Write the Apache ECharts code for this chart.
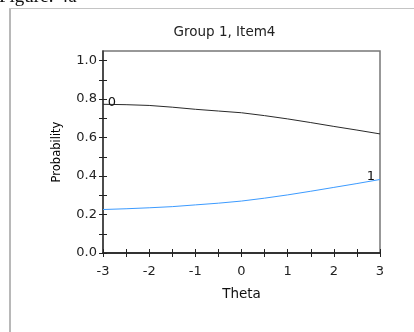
<!DOCTYPE html>
<html>
<head>
<meta charset="utf-8">
<script src="https://cdn.jsdelivr.net/npm/echarts@6/dist/echarts.min.js"></script>
<style>
html,body{margin:0;padding:0;background:#fff;}
#c{width:414px;height:332px;}
</style>
</head>
<body>
<div id="c"></div>
<script>
var theta = [-3, -2.5, -2, -1.5, -1, -0.5, 0, 0.5, 1, 1.5, 2, 2.5, 3];
var cat0 = [0.773, 0.771, 0.767, 0.758, 0.747, 0.738, 0.729, 0.714, 0.697, 0.678, 0.658, 0.639, 0.619];
var cat1 = [0.226, 0.230, 0.235, 0.241, 0.250, 0.259, 0.270, 0.285, 0.302, 0.321, 0.341, 0.361, 0.382];
var yTicks = [0, 0.1, 0.2, 0.3, 0.4, 0.5, 0.6, 0.7, 0.8, 0.9, 1.0];
var yLabels = [0, 0.2, 0.4, 0.6, 0.8, 1.0];
var xTicks = [-3, -2.5, -2, -1.5, -1, -0.5, 0, 0.5, 1, 1.5, 2, 2.5, 3];
var xLabels = [-3, -2, -1, 0, 1, 2, 3];

function pairs(xs, ys) { return xs.map(function (x, i) { return [x, ys[i]]; }); }

var font = 'DejaVu Sans';
var chart = echarts.init(document.getElementById('c'), null, {renderer: 'canvas'});

function yAx(inside, main) {
  return {
    type: 'value', min: 0, max: 1.05, position: 'left',
    name: main ? 'Probability' : '',
    nameLocation: 'middle', nameGap: 40, nameRotate: 90,
    nameTextStyle: {fontFamily: font, fontSize: 11.5, color: '#000'},
    axisLine: {show: main, onZero: false, lineStyle: {color: '#333', width: 1.5}},
    axisTick: {show: true, inside: inside, length: 4, customValues: yTicks, lineStyle: {color: '#222', width: 1}},
    axisLabel: {show: main, customValues: yLabels, margin: 6, fontFamily: font, fontSize: 13, color: '#222',
      formatter: function (v) { return v.toFixed(1); }},
    splitLine: {show: false}
  };
}
function xAx(inside, main) {
  return {
    type: 'value', min: -3, max: 3, position: 'bottom',
    name: main ? 'Theta' : '',
    nameLocation: 'middle', nameGap: 34,
    nameTextStyle: {fontFamily: font, fontSize: 13.5, color: '#111'},
    axisLine: {show: main, onZero: false, lineStyle: {color: '#111', width: 1.5}},
    axisTick: {show: true, inside: inside, length: 4, customValues: xTicks, lineStyle: {color: '#222', width: 1}},
    axisLabel: {show: main, customValues: xLabels, margin: 12, fontFamily: font, fontSize: 13, color: '#222'},
    splitLine: {show: false}
  };
}

chart.setOption({
  animation: false,
  backgroundColor: '#fff',
  title: {
    text: 'Group 1, Item4', left: 219.5, top: 20, textAlign: 'center',
    textStyle: {fontFamily: font, fontSize: 13.5, fontWeight: 'normal', color: '#222'}
  },
  grid: {left: 103, right: 34, top: 51, bottom: 79, show: true, borderColor: '#777', borderWidth: 1.5, backgroundColor: 'transparent'},
  xAxis: [xAx(false, true), xAx(true, false)],
  yAxis: [yAx(false, true), yAx(true, false)],
  graphic: [
    {type: 'rect', shape: {x: 9, y: 8, width: 2, height: 324}, style: {fill: '#b8b8b8'}, silent: true},
    {type: 'rect', shape: {x: 9, y: 8, width: 405, height: 1}, style: {fill: '#c4c4c4'}, silent: true},
    {type: 'text', x: -1, y: 7, style: {text: 'Figure: 4a', fontFamily: 'Liberation Serif', fontSize: 19, fill: '#111', verticalAlign: 'bottom'}, silent: true}
  ],
  series: [
    {
      type: 'line', name: '0', data: pairs(theta, cat0), showSymbol: false, smooth: false,
      lineStyle: {color: '#2a2a2a', width: 1}, itemStyle: {color: '#2a2a2a'},
      markPoint: {
        symbol: 'circle', symbolSize: 2, itemStyle: {color: 'rgba(0,0,0,0)'},
        label: {show: true, formatter: '0', fontFamily: font, fontSize: 13, color: '#111', position: 'inside', offset: [9, -2]},
        data: [{coord: [theta[0], cat0[0]], value: 0}]
      }
    },
    {
      type: 'line', name: '1', data: pairs(theta, cat1), showSymbol: false, smooth: false,
      lineStyle: {color: '#3c9bff', width: 1}, itemStyle: {color: '#3c9bff'},
      markPoint: {
        symbol: 'circle', symbolSize: 2, itemStyle: {color: 'rgba(0,0,0,0)'},
        label: {show: true, formatter: '1', fontFamily: font, fontSize: 13, color: '#111', position: 'inside', offset: [-9, -3]},
        data: [{coord: [theta[theta.length - 1], cat1[cat1.length - 1]], value: 1}]
      }
    }
  ]
});
</script>
</body>
</html>
